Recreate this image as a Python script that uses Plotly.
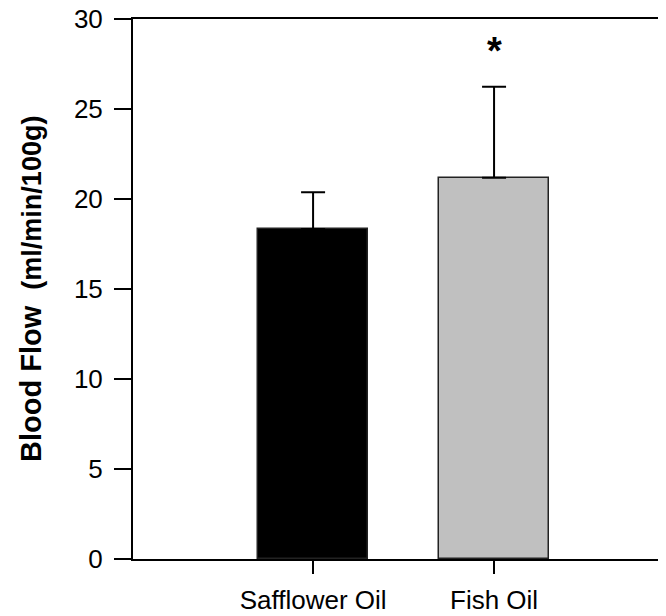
import plotly.graph_objects as go

categories = ["Safflower Oil", "Fish Oil"]
means = [18.33, 21.18]
sem = [2.05, 5.06]
bar_colors = ["#000000", "#C0C0C0"]
y_ticks = [0, 5, 10, 15, 20, 25, 30]
sig_label = "*"
sig_y = 28.2

FONT = "Arial, Liberation Sans, Helvetica, sans-serif"

L, R, T, B = 125, 8, 11, 65
PW = 666 - L - R

fig = go.Figure()
fig.add_trace(go.Bar(
    x=[0, 1],
    y=means,
    width=0.605,
    marker=dict(color=bar_colors, line=dict(color="#222222", width=1.5)),
    error_y=dict(type="data", array=sem, symmetric=False, arrayminus=[0, 0],
                 color="#000000", thickness=2, width=12, visible=True),
    showlegend=False,
))

fig.add_annotation(x=1, y=sig_y, xref="x", yref="y", text=f"<b>{sig_label}</b>",
                   showarrow=False, font=dict(family=FONT, size=38, color="#000"),
                   yanchor="middle")

fig.add_annotation(
    xref="paper", yref="paper", x=(23 - L) / PW, y=0.5,
    text="<b>Blood Flow  </b><b><span style='font-size:27px'>(ml/min/100g)</span></b>",
    textangle=-90, showarrow=False, font=dict(family=FONT, size=29, color="#000"),
    xanchor="center", yanchor="middle",
)

fig.update_layout(
    width=666, height=616,
    margin=dict(l=L, r=R, t=T, b=B, autoexpand=False),
    paper_bgcolor="white", plot_bgcolor="white",
    font=dict(family=FONT, size=26, color="#000"),
    bargap=0,
)
fig.update_xaxes(
    range=[-0.995, 1.95], tickmode="array", tickvals=[0, 1], ticktext=categories,
    showline=True, linecolor="#000", linewidth=2, mirror=True,
    ticks="outside", ticklen=13, tickwidth=1.5, tickcolor="#000",
    showgrid=False, zeroline=False, ticklabelstandoff=4,
    ticklabeloverflow="allow",
    tickfont=dict(family=FONT, size=26, color="#000"),
)
fig.update_yaxes(
    range=[0, 30], tickmode="array", tickvals=y_ticks,
    showline=True, linecolor="#000", linewidth=2, mirror=False,
    ticks="outside", ticklen=17, tickwidth=2, tickcolor="#000",
    showgrid=False, zeroline=False, ticklabelstandoff=6,
    ticklabeloverflow="allow",
    tickfont=dict(family=FONT, size=26, color="#000"),
)

fig.write_html("out.html")
